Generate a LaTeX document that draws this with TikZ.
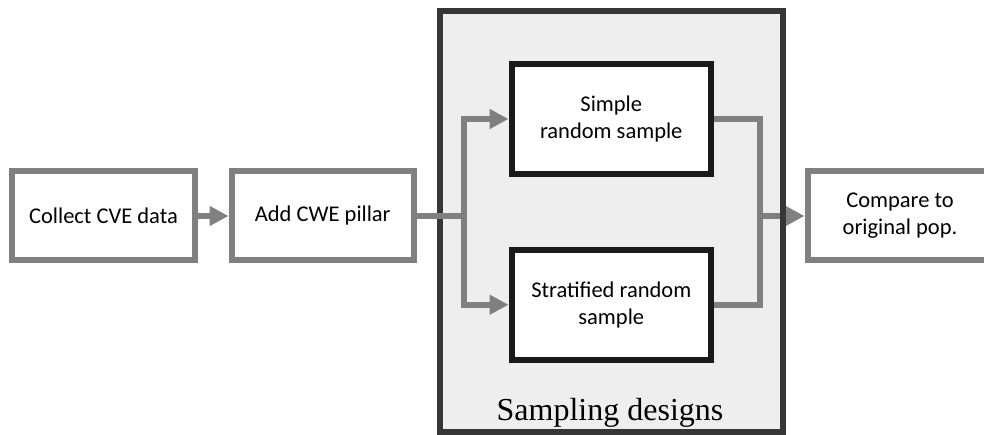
\documentclass[tikz,border=0pt]{standalone}
\usepackage{fontspec}
\setmainfont{Carlito}
\newfontfamily\captionserif{Liberation Serif}
\usetikzlibrary{arrows.meta}

\definecolor{flowgray}{HTML}{808080}
\definecolor{panelline}{HTML}{363636}
\definecolor{panelfill}{HTML}{EEEEEE}
\definecolor{innerline}{HTML}{1A1A1A}

\tikzset{
  outerbox/.style={draw=flowgray, line width=6pt, fill=white, rectangle,
    inner sep=0pt, align=center, font=\fontsize{22.5}{27}\selectfont},
  innerbox/.style={draw=innerline, line width=6pt, fill=white, rectangle,
    inner sep=0pt, align=center, font=\fontsize{22.5}{27}\selectfont},
  panel/.style={draw=panelline, line width=6pt, fill=panelfill, rectangle,
    inner sep=0pt, outer sep=0pt},
  flow/.style={draw=flowgray, line width=6pt},
  flowarrow/.style={flow, -{Triangle[length=19pt,width=19pt]}},
}

\begin{document}
\begin{tikzpicture}[x=1pt, y=-1pt]
  \useasboundingbox (0,0) rectangle (984,435);

  % container for the two sampling designs
  \node[panel, minimum width=343pt, minimum height=421pt] (designs) at (611.5,221.5) {};
  \node[anchor=base, font=\captionserif\fontsize{32}{36}\selectfont] (designlabel) at (610,420) {Sampling designs};

  % process boxes
  \node[outerbox, minimum width=183pt, minimum height=89pt] (collect) at (103.5,216) {Collect CVE data};
  \node[outerbox, minimum width=182.5pt, minimum height=89pt] (pillar) at (322.75,216) {Add CWE pillar};
  \node[innerbox, minimum width=199.5pt, minimum height=110pt] (simple) at (611.25,119) {Simple\\random sample};
  \node[innerbox, minimum width=199.5pt, minimum height=109.5pt] (strat) at (611.25,304.75) {Stratified random\\sample};
  \node[outerbox, minimum width=185pt, minimum height=89pt] (compare) at (900,216) {Compare to\\original pop.};

  % branching and merging points
  \coordinate (split) at (464,216);
  \coordinate (merge) at (760,216);

  % merged output runs underneath the right edge of the container
  \draw[flow] (simple.east) -| (merge);
  \draw[flow] (strat.east) -| (merge);
  \draw[flowarrow] (merge) -- (compare.west);
  \draw[panelline, line width=6pt] (designs.north east) -- (designs.south east);

  % input connectors run over the left edge of the container
  \draw[flowarrow] (collect.east) -- (pillar.west);
  \draw[flow] (pillar.east) -- (split);
  \draw[flowarrow] (split) |- (simple.west);
  \draw[flowarrow] (split) |- (strat.west);
\end{tikzpicture}
\end{document}
